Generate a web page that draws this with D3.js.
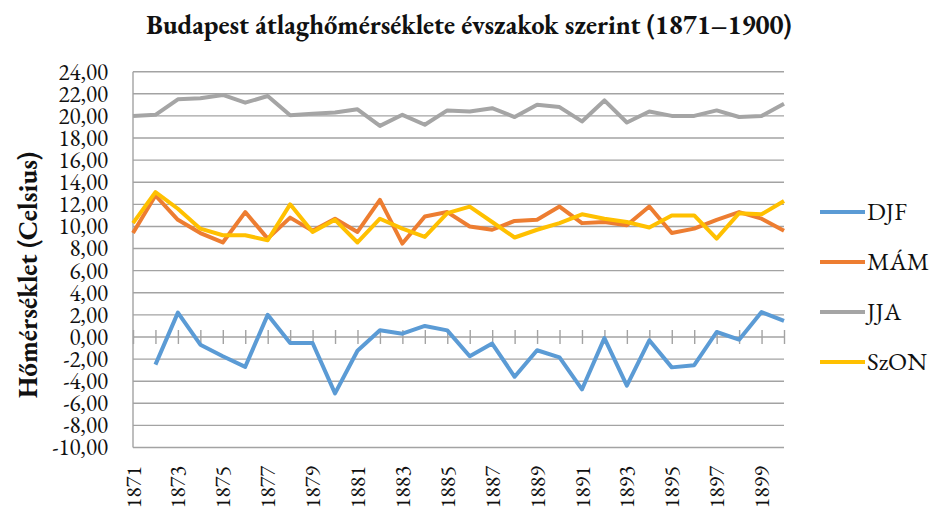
<!DOCTYPE html>
<html>
<head>
<meta charset="utf-8">
<script src="https://cdn.jsdelivr.net/npm/d3@7/dist/d3.min.js"></script>
<style>
  body { margin: 0; background: #fff; }
  svg text { fill: #111; }
</style>
</head>
<body>
<svg id="chart" width="939" height="513"></svg>
<script>
// kategóriák és évszakos átlagok (°C), leolvasva az ábráról
var years = [1871, 1872, 1873, 1874, 1875, 1876, 1877, 1878, 1879, 1880,
  1881, 1882, 1883, 1884, 1885, 1886, 1887, 1888, 1889, 1890,
  1891, 1892, 1893, 1894, 1895, 1896, 1897, 1898, 1899, 1900];
var labelYears = [1871, 1873, 1875, 1877, 1879, 1881, 1883, 1885, 1887, 1889, 1891, 1893, 1895, 1897, 1899];
var yTicks = [-10, -8, -6, -4, -2, 0, 2, 4, 6, 8, 10, 12, 14, 16, 18, 20, 22, 24];

var djf = [null, -2.5, 2.2, -0.7, -1.75, -2.7, 2.0, -0.55, -0.55, -5.1,
  -1.25, 0.6, 0.3, 1.0, 0.6, -1.75, -0.6, -3.6, -1.2, -1.85,
  -4.75, -0.1, -4.4, -0.3, -2.75, -2.55, 0.45, -0.25, 2.25, 1.45];
var mam = [9.4, 12.8, 10.6, 9.4, 8.55, 11.3, 8.9, 10.8, 9.6, 10.7,
  9.5, 12.4, 8.45, 10.9, 11.3, 10.0, 9.7, 10.5, 10.6, 11.8,
  10.3, 10.4, 10.1, 11.8, 9.4, 9.8, 10.6, 11.3, 10.7, 9.6];
var jja = [20.0, 20.1, 21.5, 21.6, 21.9, 21.2, 21.8, 20.05, 20.2, 20.3,
  20.6, 19.1, 20.1, 19.2, 20.5, 20.4, 20.7, 19.9, 21.0, 20.8,
  19.5, 21.4, 19.4, 20.4, 20.0, 20.0, 20.5, 19.9, 20.0, 21.1];
var szon = [10.3, 13.1, 11.6, 9.8, 9.2, 9.2, 8.75, 12.0, 9.5, 10.6,
  8.55, 10.7, 9.8, 9.05, 11.2, 11.8, 10.4, 9.0, 9.7, 10.3,
  11.1, 10.7, 10.4, 9.9, 11.0, 11.0, 8.9, 11.2, 11.1, 12.3];

var seriesNames = ['DJF', 'MÁM', 'JJA', 'SzON'];
var seriesValues = [djf, mam, jja, szon];
var colors = ['#5b9bd5', '#ed7d31', '#a5a5a5', '#ffc000'];

var serif = '"EB Garamond", "Liberation Serif", serif';
var svg = d3.select('#chart');

var x = d3.scalePoint().domain(years).range([133, 784]);
var y = d3.scaleLinear().domain([-10, 24]).range([447.5, 71.7]);

function fmt(v) {
  return v.toFixed(2).replace('.', ',');
}

// vízszintes rácsvonalak
svg.append('g')
  .attr('class', 'grid')
  .selectAll('line')
  .data(yTicks)
  .enter()
  .append('line')
  .attr('x1', 133)
  .attr('x2', 784)
  .attr('y1', function (d) { return y(d); })
  .attr('y2', function (d) { return y(d); })
  .attr('stroke', '#a3a3a3')
  .attr('stroke-width', 1.4);

// bal oldali tengelyvonal
svg.append('line')
  .attr('x1', 133)
  .attr('x2', 133)
  .attr('y1', y(24))
  .attr('y2', y(-10))
  .attr('stroke', '#a3a3a3')
  .attr('stroke-width', 1.4);

// y tengely feliratai
var yAxis = svg.append('g')
  .attr('transform', 'translate(108,0)')
  .attr('font-family', serif)
  .call(d3.axisLeft(y).tickValues(yTicks).tickSize(0).tickPadding(0).tickFormat(fmt));
yAxis.select('.domain').remove();
yAxis.selectAll('text')
  .attr('font-size', 23)
  .style('font-family', serif)
  .attr('fill', '#111')
  .attr('dy', '0.32em');

// x tengely a nullánál, átmetsző osztásokkal
var xAxis = svg.append('g')
  .attr('transform', 'translate(0,' + y(0) + ')')
  .call(d3.axisBottom(x).tickSize(7).tickFormat(''));
xAxis.select('.domain').remove();
xAxis.selectAll('.tick line')
  .attr('y1', -7)
  .attr('stroke', '#a3a3a3')
  .attr('stroke-width', 1.4);

// évszámok alul, elforgatva
var xLabels = svg.append('g')
  .attr('transform', 'translate(0,466)')
  .attr('font-family', serif)
  .call(d3.axisBottom(x).tickValues(labelYears).tickSize(0).tickFormat(d3.format('d')));
xLabels.select('.domain').remove();
xLabels.selectAll('text')
  .attr('font-size', 22)
  .style('font-family', serif)
  .attr('fill', '#111')
  .attr('transform', 'rotate(-90)')
  .attr('text-anchor', 'end')
  .attr('x', 0)
  .attr('y', 0)
  .attr('dy', '0.32em');

// vonalak
var line = d3.line()
  .defined(function (d) { return d != null; })
  .x(function (d, i) { return x(years[i]); })
  .y(function (d) { return y(d); });

svg.append('g')
  .selectAll('path')
  .data(seriesValues)
  .enter()
  .append('path')
  .attr('d', line)
  .attr('fill', 'none')
  .attr('stroke', function (d, i) { return colors[i]; })
  .attr('stroke-width', 4)
  .attr('stroke-linejoin', 'round');

// jelmagyarázat
var legend = svg.append('g')
  .selectAll('g')
  .data(seriesNames)
  .enter()
  .append('g')
  .attr('transform', function (d, i) { return 'translate(820,' + (212 + i * 50) + ')'; });

legend.append('line')
  .attr('x1', 0)
  .attr('x2', 45)
  .attr('stroke', function (d, i) { return colors[i]; })
  .attr('stroke-width', 4);

legend.append('text')
  .attr('x', 47)
  .attr('dy', '0.33em')
  .attr('font-size', 25)
  .style('font-family', serif)
  .text(function (d) { return d; });

// cím
svg.append('text')
  .attr('x', 469)
  .attr('y', 34)
  .attr('text-anchor', 'middle')
  .attr('font-size', 26.5)
  .attr('font-weight', 'bold')
  .style('font-family', serif)
  .text('Budapest átlaghőmérséklete évszakok szerint (1871–1900)');

// y tengely címe
svg.append('text')
  .attr('transform', 'translate(28,275) rotate(-90)')
  .attr('text-anchor', 'middle')
  .attr('dy', '0.33em')
  .attr('font-size', 27)
  .attr('font-weight', 'bold')
  .style('font-family', serif)
  .text('Hőmérséklet (Celsius)');
</script>
</body>
</html>
